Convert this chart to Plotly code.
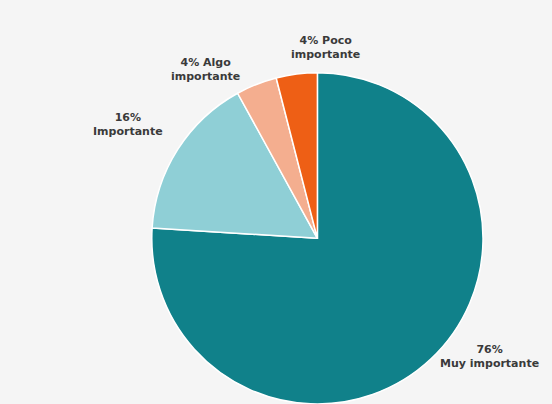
import plotly.graph_objects as go

# Survey shares, listed clockwise from 12 o'clock
categories = ["Muy importante", "Importante", "Algo importante", "Poco importante"]
values = [76, 16, 4, 4]
colors = ["#10818a", "#8fcfd6", "#f4ae8f", "#ee5f15"]

# Outside label text and placement (paper coords, centre of each label block)
label_text = [
    f"{values[0]}%<br>Muy importante",
    f"{values[1]}%<br>Importante",
    f"{values[2]}% Algo<br>importante",
    f"{values[3]}% Poco<br>importante",
]
label_pos = [(490 / 552, 1 - 356 / 404), (128 / 552, 1 - 124 / 404),
             (205 / 552, 1 - 69 / 404), (325 / 552, 1 - 47 / 404)]

fig = go.Figure(
    go.Pie(
        labels=categories,
        values=values,
        sort=False,
        direction="clockwise",
        rotation=0,
        marker=dict(colors=colors, line=dict(color="white", width=1.5)),
        textinfo="none",
        hoverinfo="label+percent",
        domain=dict(x=[0.275, 0.875], y=[0.0, 0.82]),
        showlegend=False,
    )
)

for txt, (x, y) in zip(label_text, label_pos):
    fig.add_annotation(
        x=x, y=y, xref="paper", yref="paper",
        text=txt, showarrow=False,
        xanchor="center", yanchor="middle", align="center",
        font=dict(family="DejaVu Sans", size=11, color="#3a3a3a", weight="bold"),
    )

fig.update_layout(
    width=552, height=404,
    margin=dict(l=0, r=0, t=0, b=0),
    paper_bgcolor="#f5f5f5",
    plot_bgcolor="#f5f5f5",
)

fig.write_html("out.html")
